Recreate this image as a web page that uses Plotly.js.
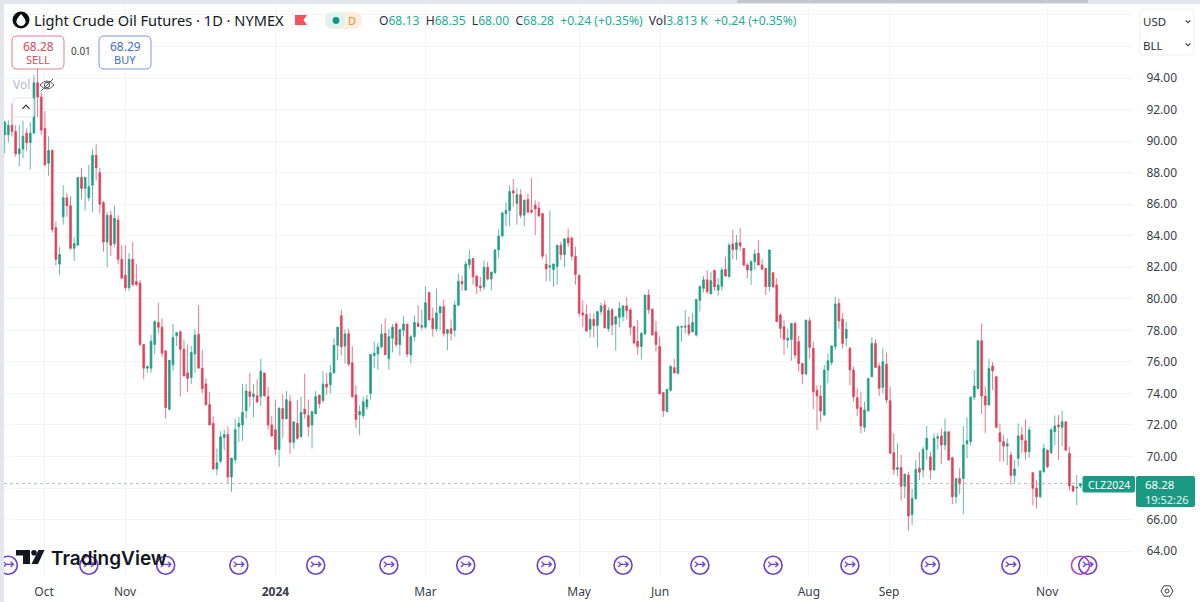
<!DOCTYPE html>
<html><head><meta charset="utf-8">
<script src="https://cdn.plot.ly/plotly-3.0.1.min.js"></script>
<style>html,body{margin:0;padding:0;background:#fff}#c{width:1200px;height:602px}</style>
</head><body><div id="c"></div>
<script>
const opens=[
90.4,90.4,91.0,90.6,89.2,89.5,90.5,89.9,90.5,93.7,
92.8,90.8,88.6,89.4,84.5,82.2,85.2,86.4,85.9,83.2,
83.4,87.7,87.0,86.4,87.2,89.1,88.0,86.1,83.6,85.3,
83.5,85.0,82.5,81.5,80.7,82.5,81.1,81.0,77.1,75.6,
75.6,77.1,78.5,78.2,76.7,73.0,75.8,77.65,77.9,76.8,
75.3,75.0,76.5,77.75,75.6,74.6,73.3,72.1,69.2,69.7,
71.2,71.4,68.7,69.8,71.9,72.0,72.9,74.1,73.8,73.85,
73.8,75.3,73.8,72.0,71.7,70.45,73.05,72.4,73.5,70.9,
72.1,71.25,73.0,72.6,72.0,72.7,73.9,73.55,74.6,74.55,
75.3,77.05,78.93,77.0,77.8,75.95,73.9,72.65,72.6,73.15,
74.0,76.4,76.5,76.95,77.8,76.2,77.5,78.4,77.1,78.0,
78.4,76.45,77.6,78.45,78.2,78.2,80.4,78.75,78.1,79.1,
79.5,77.8,78.1,78.0,79.6,81.1,80.55,82.15,82.55,81.45,
80.8,80.75,82.0,81.25,81.65,83.1,83.98,85.4,85.6,86.85,
86.05,86.6,85.3,86.3,85.6,85.95,85.75,85.4,82.2,82.0,
81.85,82.05,83.4,82.8,83.85,83.85,82.7,81.5,79.1,79.0,
78.06,78.7,78.3,79.18,79.6,78.1,79.3,78.4,78.82,78.87,
79.55,79.3,78.23,77.3,76.97,77.77,80.24,79.33,77.9,76.97,
74.05,72.84,74.2,75.63,75.27,78.2,78.2,78.34,77.9,77.7,
79.9,80.66,81.2,80.3,81.8,80.55,80.8,81.87,81.4,83.48,
83.13,83.56,83.2,82.14,81.8,82.35,82.88,82.14,81.93,80.77,
81.66,80.87,78.97,78.23,77.38,77.43,78.44,77.28,75.9,75.23,
78.6,76.86,74.2,73.83,72.63,75.48,75.95,76.96,79.7,78.7,
77.5,76.86,75.48,73.73,73.1,71.85,72.9,75.06,77.17,75.73,
74.38,75.86,73.54,70.24,69.18,69.3,68.12,68.82,66.3,67.34,
69.25,69.14,70.45,69.98,69.14,71.15,71.3,70.73,71.57,69.92,
67.45,68.6,68.6,70.8,70.94,73.75,74.3,77.34,73.83,73.26,
75.74,75.06,71.5,70.94,70.66,70.09,68.8,69.88,71.36,71.0,
70.3,68.97,67.98,67.45,69.03,70.4,70.24,71.57,72.0,71.85,
72.2,70.2,68.13,68.0,68.13];
const highs=[
91.3,91.3,92.4,91.0,91.0,91.3,90.8,91.2,94.2,94.8,
93.1,91.9,90.3,89.5,84.9,83.3,87.2,86.7,86.5,83.9,
87.7,88.3,87.7,88.5,89.5,89.8,88.3,86.2,85.5,85.6,
85.9,85.3,83.4,83.4,82.9,83.6,82.2,81.2,77.1,75.8,
77.7,78.65,79.75,78.75,76.7,76.1,78.4,77.9,78.0,77.4,
77.1,77.0,78.06,79.6,76.75,74.95,74.1,72.55,70.5,71.6,
71.7,71.9,69.9,72.4,72.5,74.6,74.6,75.3,74.6,74.9,
76.2,75.3,74.4,72.55,73.6,73.15,73.96,74.15,73.9,72.2,
73.6,73.8,75.25,73.6,72.9,74.15,73.9,75.4,75.3,75.8,
77.5,78.2,79.3,78.06,78.1,77.0,74.5,73.25,73.8,73.9,
76.5,77.3,77.2,78.4,78.75,78.1,78.4,78.55,78.1,78.9,
78.4,77.7,78.95,79.6,79.3,80.8,80.4,79.45,80.65,79.55,
79.95,78.1,78.7,79.9,81.6,81.45,82.4,83.1,82.6,81.45,
81.4,82.45,82.35,81.7,83.15,84.4,85.45,86.1,87.2,87.6,
87.0,86.95,86.3,86.65,87.65,86.25,86.15,85.4,82.85,85.6,
82.25,83.4,83.6,83.8,84.45,83.95,83.3,81.5,79.9,79.6,
79.07,79.07,79.25,79.75,79.9,79.46,79.4,78.87,79.8,79.6,
80.1,79.4,78.3,78.65,77.9,80.24,80.6,79.4,78.6,77.6,
74.05,74.26,75.8,76.2,78.28,78.28,79.3,78.87,79.1,79.96,
80.87,81.45,81.8,81.7,81.87,81.3,82.0,82.67,83.56,84.36,
84.05,84.5,83.2,82.25,82.46,83.14,83.73,82.5,81.93,83.1,
81.66,81.3,79.1,78.65,78.1,78.44,78.55,77.64,75.9,78.65,
78.82,77.28,74.53,74.53,75.8,76.54,77.07,80.13,80.03,79.08,
78.55,76.96,75.7,74.32,74.1,73.47,75.0,77.55,77.43,75.95,
76.86,76.58,74.43,71.47,70.83,70.1,68.93,69.0,67.93,69.78,
70.3,70.62,71.93,70.3,71.47,71.47,71.78,72.42,71.57,69.99,
68.6,69.25,71.93,72.48,73.85,75.5,77.34,78.44,74.43,76.2,
76.0,75.06,72.1,71.36,71.15,70.3,69.77,72.1,71.89,72.35,
71.89,69.0,68.5,69.14,70.79,70.45,71.8,72.6,72.63,72.9,
72.2,70.62,68.13,68.82,68.35];
const lows=[
89.2,89.9,90.3,89.0,88.4,88.9,89.4,88.2,90.5,91.5,
90.4,88.4,87.8,84.2,82.1,81.5,84.7,85.2,83.1,82.4,
83.4,86.3,85.6,86.2,85.5,87.5,85.4,83.0,82.0,82.7,
83.3,82.2,81.3,80.5,80.5,80.8,80.8,77.0,74.9,75.3,
75.3,76.5,77.8,76.3,72.4,72.9,75.4,77.0,73.8,75.1,
74.1,74.6,75.3,75.6,74.0,73.2,72.0,69.15,68.8,69.55,
70.4,68.3,67.75,69.56,70.9,71.0,72.4,73.15,72.5,73.4,
73.2,73.8,71.7,71.25,70.1,69.35,71.15,72.35,70.15,70.5,
71.05,71.2,72.4,71.25,70.5,72.7,73.05,73.4,73.9,74.0,
75.25,76.1,76.4,75.9,75.7,73.7,71.8,71.35,72.4,72.95,
73.6,75.6,75.5,76.85,76.45,75.5,76.6,76.95,76.4,77.6,
76.3,75.9,77.3,78.2,78.0,78.1,78.65,77.6,77.9,78.0,
77.6,76.75,77.35,77.6,79.5,80.5,80.5,81.9,80.9,80.3,
80.45,80.55,81.15,80.55,81.6,82.6,83.95,84.6,84.6,85.85,
84.7,85.1,84.6,85.4,85.4,84.05,85.2,82.55,81.1,81.1,
80.75,80.9,82.45,82.0,83.3,82.45,80.9,78.87,78.2,77.9,
77.55,77.55,76.9,78.97,78.12,77.9,77.7,76.7,78.2,78.55,
78.7,77.7,77.1,76.43,76.15,77.7,79.04,77.7,76.65,73.96,
72.5,72.84,74.1,75.27,75.2,77.27,77.8,77.64,77.9,77.6,
79.2,80.4,80.3,80.3,80.5,80.2,80.5,81.4,81.36,82.5,
82.46,83.05,82.04,81.3,80.88,81.83,82.14,81.87,80.24,80.45,
80.66,78.55,77.5,76.43,76.86,76.07,76.2,75.38,74.6,75.17,
76.22,72.99,71.68,72.2,72.57,74.64,75.8,76.75,78.1,76.86,
76.96,74.53,73.48,72.57,71.47,71.57,72.84,75.02,75.65,73.83,
74.0,73.37,70.2,68.82,68.76,67.2,67.34,65.3,65.66,67.24,
68.5,68.67,69.77,68.55,69.1,70.45,69.52,70.4,69.77,66.98,
67.0,67.6,66.35,69.88,70.7,73.58,74.26,72.7,71.5,73.26,
74.2,71.78,69.67,69.67,69.45,68.2,68.3,69.35,70.2,69.8,
69.88,66.9,66.7,67.34,68.97,69.25,70.15,70.72,69.77,70.66,
70.36,67.87,67.77,66.92,68.0];
const closes=[
91.2,91.0,90.6,89.2,89.5,90.3,89.9,90.5,93.7,92.8,
90.7,88.5,89.4,84.4,82.5,82.8,86.4,85.9,83.2,83.5,
87.7,87.0,87.7,87.1,89.1,88.3,86.0,83.6,85.3,83.4,
85.1,82.5,81.3,80.7,82.5,80.9,80.9,77.1,75.6,75.7,
77.3,78.55,78.2,76.55,73.1,76.1,77.55,77.85,76.8,75.1,
74.95,76.6,77.7,75.6,74.3,73.3,72.0,69.2,69.6,71.25,
71.4,68.7,69.9,71.7,72.1,72.8,74.15,73.8,73.95,73.45,
75.4,73.85,72.0,71.3,70.45,73.05,72.4,73.6,70.9,72.2,
71.15,72.8,72.7,71.9,72.85,73.8,73.35,74.6,74.4,75.3,
77.05,78.2,76.96,77.77,75.86,73.8,72.35,72.85,73.47,73.6,
76.47,76.55,76.95,77.77,76.45,77.6,78.2,77.1,78.05,78.4,
76.5,77.6,78.5,78.25,78.3,79.75,78.65,78.1,79.1,79.5,
77.8,78.05,77.8,79.6,81.1,80.95,82.2,82.5,81.4,80.8,
80.7,82.0,81.25,81.7,83.1,83.98,85.45,85.6,86.8,86.7,
86.6,85.3,86.25,85.5,85.5,85.7,85.25,82.7,81.9,82.1,
82.2,83.4,82.8,83.8,83.55,82.7,81.55,79.08,78.97,77.95,
78.7,78.3,79.18,79.55,78.16,79.25,78.34,78.87,79.4,79.55,
79.25,78.2,77.2,76.97,77.8,80.24,79.3,77.7,77.1,73.96,
72.9,74.26,75.7,75.3,78.23,78.24,78.26,77.8,78.5,79.96,
80.77,81.2,80.45,81.15,80.77,80.87,81.83,81.45,83.4,83.13,
83.56,83.35,82.14,81.83,82.35,82.84,82.14,81.87,80.77,83.1,
80.77,78.55,78.12,77.43,77.49,78.44,76.43,75.9,75.23,78.65,
76.92,74.1,73.83,72.88,75.48,76.07,77.0,79.67,78.6,77.17,
78.06,75.48,73.79,73.05,71.93,72.95,74.95,77.17,75.65,74.32,
76.0,73.58,70.2,69.18,69.29,68.12,68.87,66.22,67.34,69.18,
69.0,70.45,71.15,69.14,71.15,71.25,70.73,71.57,69.77,67.45,
68.6,68.25,70.73,71.0,73.75,74.47,77.34,73.83,73.26,75.59,
75.44,71.85,70.94,70.66,70.8,68.8,69.2,71.3,71.05,70.3,
71.68,67.98,67.45,69.08,70.5,69.35,71.7,71.93,71.89,72.2,
70.4,68.13,67.8,68.03,68.28];
const monthLabels=['Oct','Nov','<b>2024</b>','Mar','May','Jun','Aug','Sep','Nov'];
const monthIndex=[10.75,32.9,74,115,157,179.1,219.8,241.7,284.9];
const priceTicks=[98,96,94,92,90,88,86,84,82,80,78,76,74,72,70,68,66,64];
const priceLabels=['','','94.00','92.00','90.00','88.00','86.00','84.00','82.00','80.00','78.00','76.00','74.00','72.00','70.00','','66.00','64.00'];
const eventIndex=[1,23,44,64,85,105,126,148,169,190,210,231,253,275,296];
const lastPrice=68.28;

const W=1200,H=602,L=4,R=1133,T=5,B=576;
const px=x=>(x-L)/(R-L), py=y=>1-(y-T)/(B-T);
const FONT='"Noto Sans", sans-serif';
const X0=4.67,DX=3.659;
const GREEN='#1f9e88',RED='#de4259';
const idx=opens.map((_,i)=>i);

function note(x,y,text,size,color,anchor,extra){
  return Object.assign({xref:'paper',yref:'paper',x:px(x),y:py(y),text:text,showarrow:false,
    xanchor:anchor||'left',yanchor:'middle',font:{family:FONT,size:size,color:color},borderpad:0,borderwidth:0},extra||{});
}
function poly(pts,closed,fill,line,w){
  const d=pts.map((p,i)=>(i?'L':'M')+px(p[0]).toFixed(5)+','+py(p[1]).toFixed(5)).join(' ')+(closed?' Z':'');
  return {type:'path',xref:'paper',yref:'paper',path:d,fillcolor:fill||'rgba(0,0,0,0)',line:{color:line||'rgba(0,0,0,0)',width:w||0}};
}
function rrect(x0,y0,x1,y1,r,fill,line,w){
  const P=(x,y)=>px(x).toFixed(5)+','+py(y).toFixed(5);
  const d='M'+P(x0+r,y0)+' L'+P(x1-r,y0)+' Q'+P(x1,y0)+' '+P(x1,y0+r)+' L'+P(x1,y1-r)+' Q'+P(x1,y1)+' '+P(x1-r,y1)+
    ' L'+P(x0+r,y1)+' Q'+P(x0,y1)+' '+P(x0,y1-r)+' L'+P(x0,y0+r)+' Q'+P(x0,y0)+' '+P(x0+r,y0)+' Z';
  return {type:'path',xref:'paper',yref:'paper',path:d,fillcolor:fill,line:{color:line||'rgba(0,0,0,0)',width:w||0}};
}
function circ(cx,cy,r,fill,line,w){
  return {type:'circle',xref:'paper',yref:'paper',x0:px(cx-r),x1:px(cx+r),y0:py(cy+r),y1:py(cy-r),fillcolor:fill,line:{color:line||'rgba(0,0,0,0)',width:w||0}};
}
function chev(cx,cy,s,up,col){
  const d=up?-1:1;
  return poly([[cx-s,cy-d*s*0.5],[cx,cy+d*s*0.5],[cx+s,cy-d*s*0.5]],false,null,col,1.2);
}

const teal='#22ab94';
const tv=(s)=>'<span style="color:'+teal+'">'+s+'</span>';
const ohlc='O'+tv('68.13')+'  H'+tv('68.35')+'  L'+tv('68.00')+'  C'+tv('68.28')+'  '+tv('+0.24 (+0.35%)')+'  Vol'+tv('3.813 K')+'  '+tv('+0.24 (+0.35%)');

const shapes=[
 {type:'line',xref:'paper',yref:'y',x0:0,x1:1,y0:lastPrice,y1:lastPrice,line:{color:'#a3adab',width:0.8,dash:'dot'}},
 {type:'rect',xref:'paper',yref:'paper',x0:px(0),x1:px(4),y0:py(602),y1:py(0),fillcolor:'#e3e7ec',line:{width:0}},
 {type:'rect',xref:'paper',yref:'paper',x0:px(0),x1:px(1200),y0:py(4),y1:py(0),fillcolor:'#e3e7ec',line:{width:0}},
 {type:'rect',xref:'paper',yref:'paper',x0:px(737),x1:px(1088),y0:py(3),y1:py(0),fillcolor:'#c4c7cb',line:{width:0}},
 circ(21,20,8.5,'#0b0d12'),
 {type:'path',xref:'paper',yref:'paper',path:'M'+px(21)+','+py(14)+' Q'+px(26.5)+','+py(20)+' '+px(25.5)+','+py(22.5)+' Q'+px(24)+','+py(26)+' '+px(21)+','+py(26)+' Q'+px(18)+','+py(26)+' '+px(16.5)+','+py(22.5)+' Q'+px(15.5)+','+py(20)+' '+px(21)+','+py(14)+' Z',fillcolor:'#fff',line:{width:0}},
 poly([[295,15],[307,15],[303.5,20],[307,25],[295,25]],true,'#f7525f'),
 rrect(325,12,362,29,8,'#fdeee0'),
 rrect(325,12,345,29,8,'#dff3ef'),
 circ(336,20.5,3.4,'#13997f'),
 rrect(12,36,64,69,5,'#ffffff','#e0808e',1),
 rrect(99,36,151,69,5,'#ffffff','#7d9ad8',1),
 rrect(13,98,34,117,2,'rgba(255,255,255,0.78)','#e4e6ea',1),
 chev(26,107,3.6,true,'#2a2e39'),
 {type:'path',xref:'paper',yref:'paper',path:'M'+px(40)+','+py(85)+' Q'+px(47)+','+py(77)+' '+px(54)+','+py(85)+' Q'+px(47)+','+py(93)+' '+px(40)+','+py(85)+' Z',fillcolor:'rgba(255,255,255,0.4)',line:{color:'#4a4e59',width:1}},
 circ(47,85,2.6,'rgba(0,0,0,0)','#4a4e59',1),
 poly([[41,91],[53,79]],false,null,'#4a4e59',1),
 rrect(1140,9,1194,55,4,'#ffffff','#eceef2',1),
 chev(1188,21.5,2.4,false,'#3a3e49'),
 chev(1188,44.5,2.4,false,'#3a3e49'),
 rrect(1082.5,476,1135,492.5,2,'#1a9a82'),
 rrect(1136,476,1195,507,2,'#1a9a82'),
 poly([[16,550],[30,550],[30,564],[23,564],[23,555.5],[16,555.5]],true,'#131722'),
 circ(34,552.8,2.8,'#131722'),
 poly([[38.5,550],[44.5,550],[38,564],[31.5,564]],true,'#131722'),
 poly([[1161,591],[1164,585.8],[1170,585.8],[1173,591],[1170,596.2],[1164,596.2]],true,null,'#3a3e49',1),
 circ(1167,591,2,'rgba(0,0,0,0)','#3a3e49',1)
];

const annotations=[
 note(34,20.5,'Light Crude Oil Futures · 1D · NYMEX',14.6,'#131722'),
 note(352,20.5,'D',11,'#ee8a2f','center'),
 note(379,20.5,ohlc,12.1,'#2a2e39'),
 note(38,46,'68.28',12,'#d9495d','center'),
 note(38,60,'SELL',11,'#d9495d','center'),
 note(81,51.5,'0.01',10,'#3a3e49','center'),
 note(125,46,'68.29',12,'#3f6fd1','center'),
 note(125,60,'BUY',11,'#3f6fd1','center'),
 note(13,84,'Vol',12,'#b5b8c0'),
 note(1143,22,'USD',11.5,'#2a2e39'),
 note(1143,45,'BLL',11.5,'#2a2e39'),
 note(1108.5,484.5,'CLZ2024',10.5,'#ffffff','center'),
 note(1145,484,'68.28',11.5,'#ffffff'),
 note(1145,499,'19:52:26',11,'#e8f5f2'),
 note(51,558,'TradingView',20,'#131722','left',{font:{family:'Inter, sans-serif',size:19,color:'#131722',weight:600}})
];

const traces=[
 {type:'candlestick',x:idx,open:opens,high:highs,low:lows,close:closes,
  increasing:{line:{color:'rgba(31,158,136,0.7)',width:1},fillcolor:GREEN},
  decreasing:{line:{color:'rgba(222,66,89,0.7)',width:1},fillcolor:RED},
  whiskerwidth:0,hoverinfo:'skip'},
 {type:'scatter',mode:'markers+text',x:eventIndex,y:eventIndex.map(()=>63.1),
  marker:{symbol:'circle-open',size:18,color:'#6a3fd1',line:{width:1.6,color:'#6a3fd1'}},
  text:eventIndex.map(()=>'↣'),textposition:'middle center',
  textfont:{family:'"DejaVu Sans"',size:15,color:'#6a3fd1'},hoverinfo:'skip'},
 {type:'scatter',mode:'markers',x:[294],y:[63.1],
  marker:{symbol:'circle-open',size:18,color:'#b344c9',line:{width:1.6,color:'#b344c9'}},hoverinfo:'skip'}
];

const layout={
 width:W,height:H,margin:{l:L,r:W-R,t:T,b:H-B,pad:0},
 paper_bgcolor:'#ffffff',plot_bgcolor:'#ffffff',showlegend:false,boxgap:0.3,
 xaxis:{type:'linear',range:[(L-X0)/DX,(R-X0)/DX],rangeslider:{visible:false},tickmode:'array',tickvals:monthIndex,ticktext:monthLabels,
  showgrid:true,gridcolor:'#f3f4f6',gridwidth:1,zeroline:false,showline:false,ticks:'outside',ticklen:5,tickcolor:'rgba(0,0,0,0)',
  tickangle:0,tickfont:{family:FONT,size:12,color:'#3a3e49'}},
 yaxis:{type:'linear',side:'right',range:[94-(B-78)/15.77,94-(T-78)/15.77],tickmode:'array',tickvals:priceTicks,ticktext:priceLabels,
  showgrid:true,gridcolor:'#f3f4f6',gridwidth:1,zeroline:false,showline:false,ticks:'outside',ticklen:10,tickcolor:'rgba(0,0,0,0)',
  tickfont:{family:FONT,size:12,color:'#3a3e49'}},
 shapes:shapes,annotations:annotations
};
Plotly.newPlot('c',traces,layout,{displayModeBar:false,staticPlot:true});
</script></body></html>
